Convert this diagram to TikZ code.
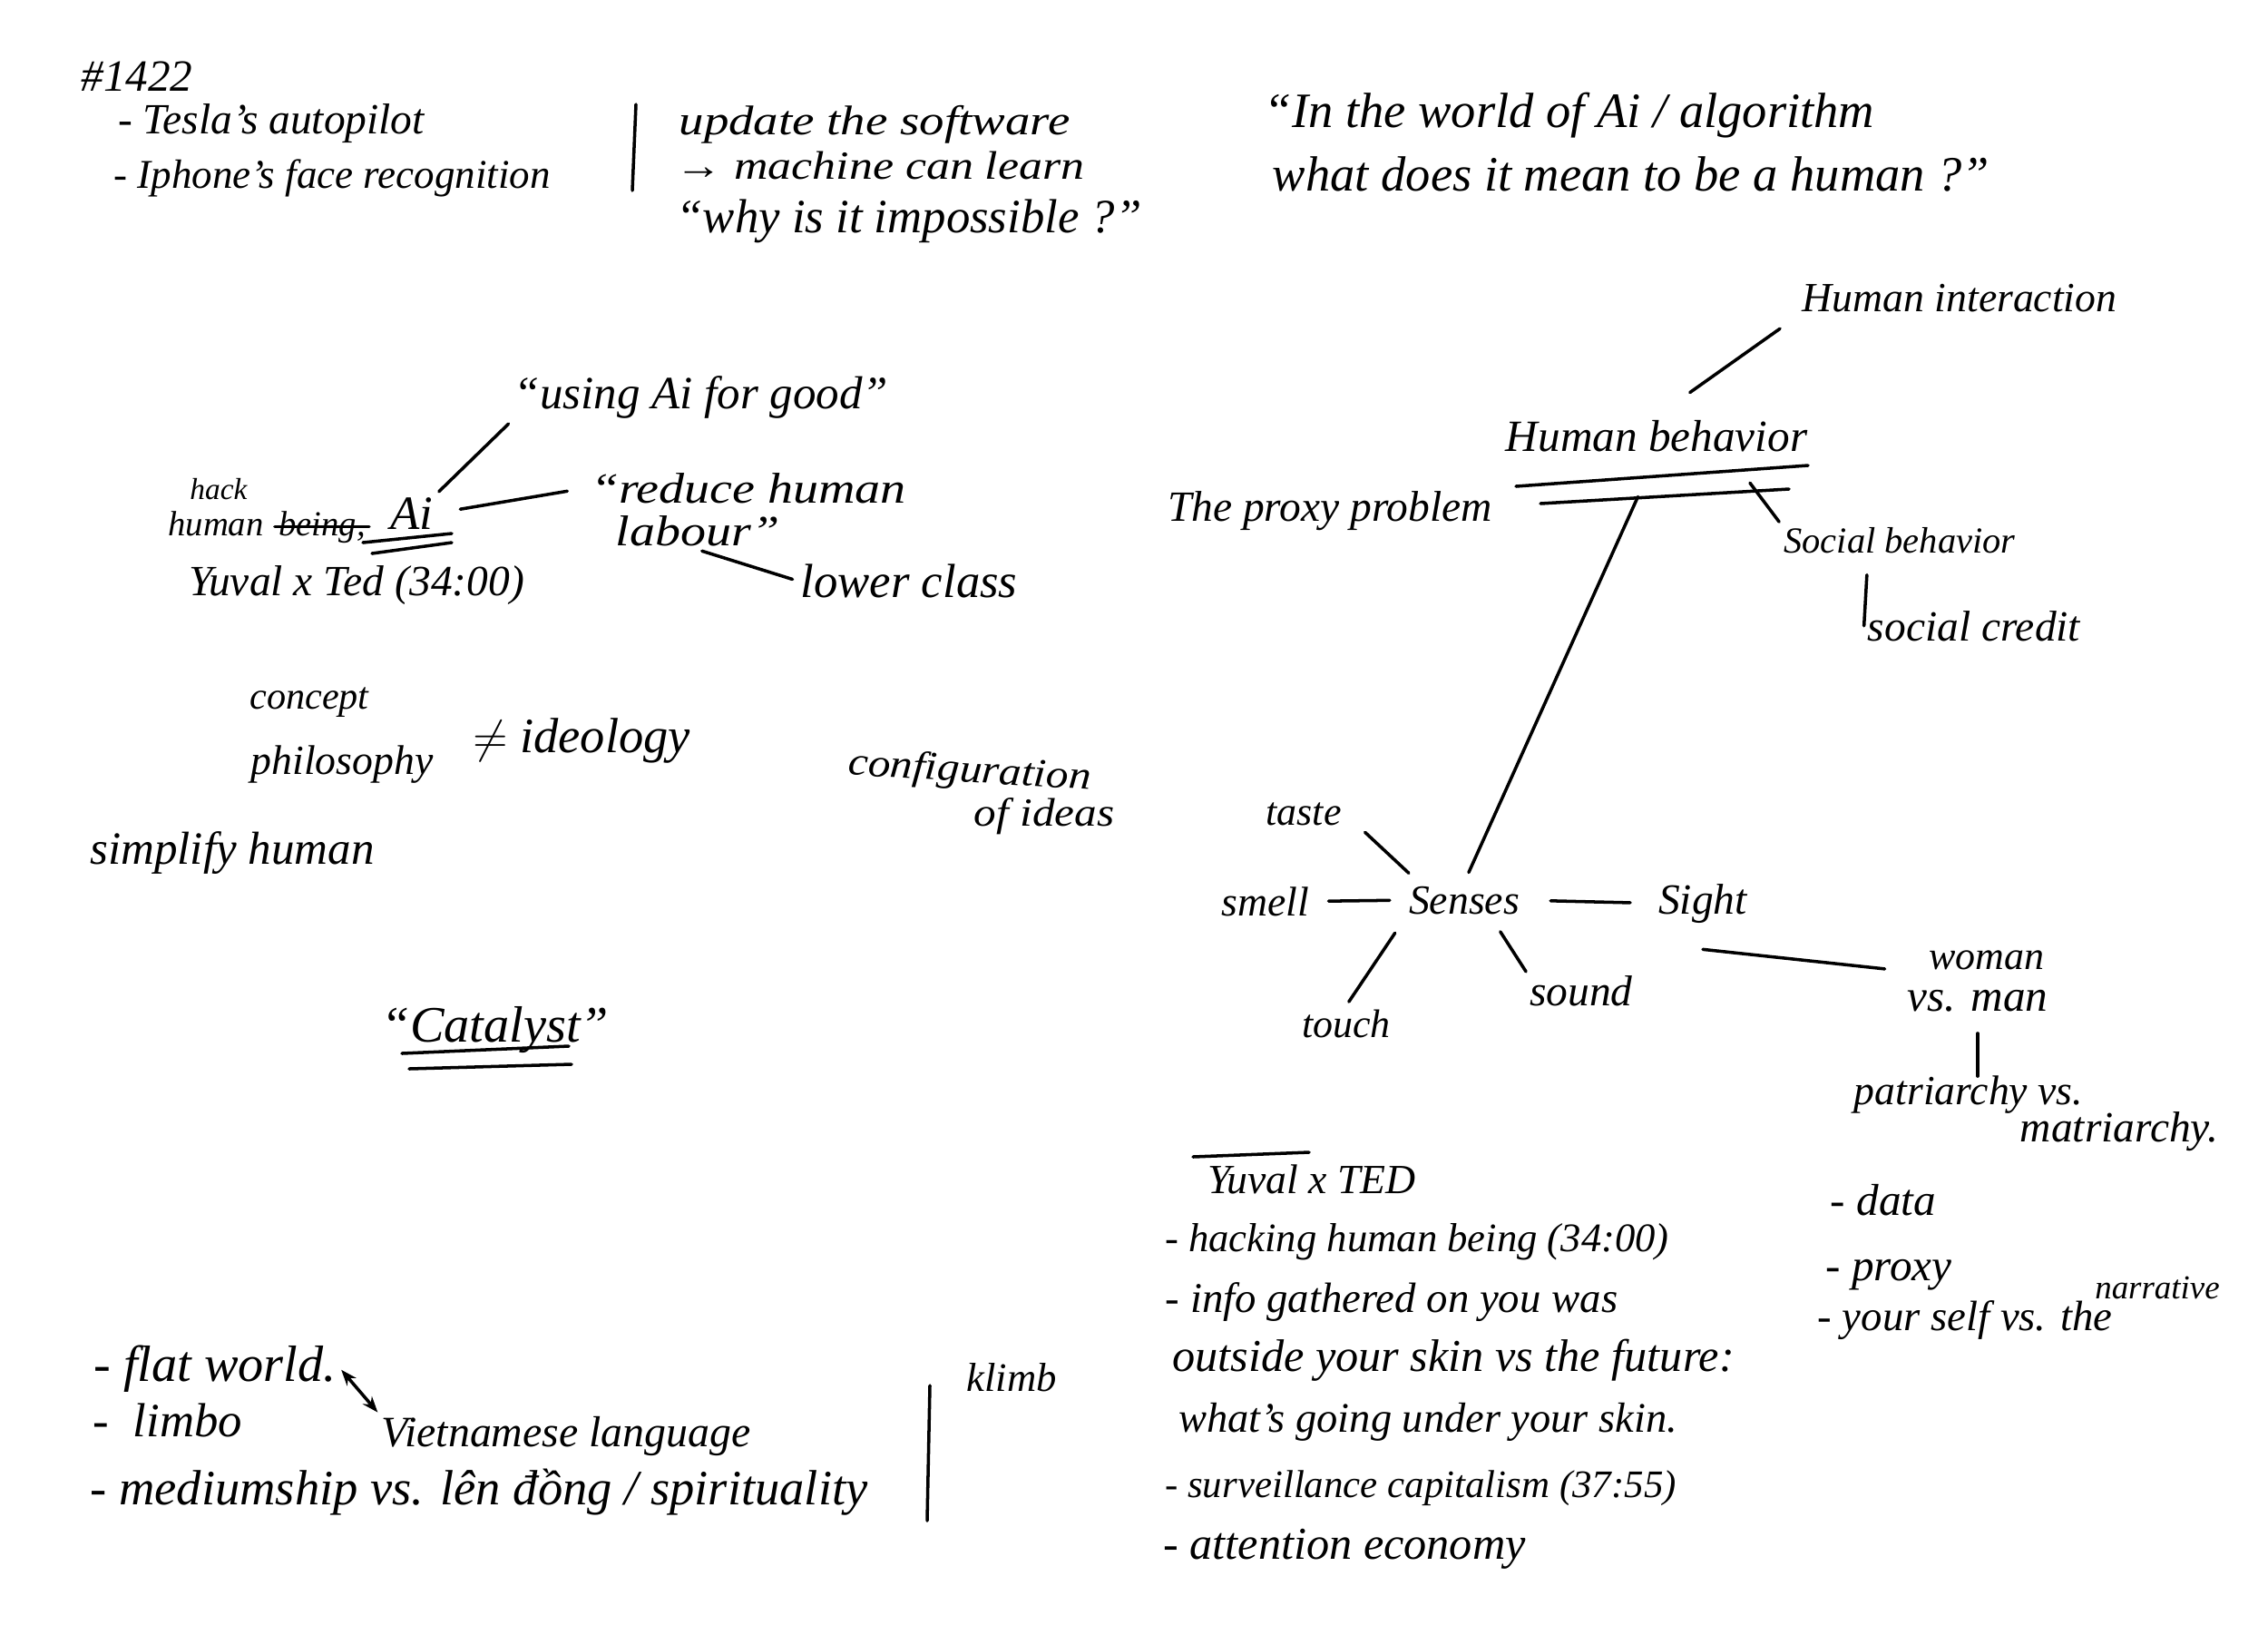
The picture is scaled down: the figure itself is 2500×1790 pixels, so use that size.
\documentclass[tikz,border=0pt]{standalone}
\usepackage{fontspec}
\setmainfont{Liberation Serif}
\usetikzlibrary{arrows.meta}

\newcommand{\handsize}[1]{\itshape\fontsize{#1}{#1}\selectfont}
\tikzset{
  hand/.style={font=\handsize{#1}, inner sep=1pt, anchor=base},
  hand/.default=13.5,
  stretch/.style={xscale=#1, transform shape},
  pen/.style={line width=1pt, line cap=round},
}

\begin{document}
\begin{tikzpicture}[x=0.01cm, y=-0.01cm]
	\fill[white] (0,0) rectangle (2500,1790);
	\useasboundingbox (0,0) rectangle (2500,1790);

	% top left
	\node[hand=14] (num) at (151,100) {\#1422};
	\node[hand=13.5] (tesla) at (299,147) {- Tesla's autopilot};
	\node[hand=12.8] (iphone) at (366,207) {- Iphone's face recognition};
	\draw[pen] (701,115) -- (697,210);
	\node[hand=13, stretch=1.2] (update) at (964,148) {update the software};
	\node[hand=12.5, stretch=1.18] (machine) at (970,197) {→ machine can learn};
	\node[hand=15] (why) at (1002,256) {“why is it impossible ?”};

	% top right
	\node[hand=15.5] (world) at (1730,140) {“In the world of Ai / algorithm};
	\node[hand=15.5] (mean) at (1798,210) {what does it mean to be a human ?”};

	% Ai
	\node[hand=14.5] (good) at (773,450) {“using Ai for good”};
	\node[hand=9.5] (hack) at (241,550) {hack};
	\node[hand=11] (humanw) at (238,590) {human};
	\node[hand=11, anchor=base west] (beingw) at ([xshift=0.08cm]humanw.base east) {being,};
	\draw[pen] (beingw.west) -- (beingw.east);
	\node[hand=15] (ai) at (454,583) {Ai};
	\draw[pen] (400,598) -- (498,588);
	\draw[pen] (410,610) -- (498,598);
	\node[hand=13.5, stretch=1.18] (reduce) at (825,554) {“reduce human};
	\node[hand=13.5, stretch=1.18] (labour) at (769,601) {labour”};
	\node[hand=15] (lower) at (1002,658) {lower class};
	\node[hand=13.5] (yuval) at (393,656) {Yuval x Ted (34:00)};
	\draw[pen, shorten <=0.03cm, shorten >=0.03cm] (ai.north east) -- (good.south west);
	\draw[pen, shorten <=0.26cm, shorten >=0.21cm] (ai.east) -- (reduce.west);
	\draw[pen, shorten <=0.05cm, shorten >=0.05cm] (labour.south) -- (lower.west);

	% middle left
	\node[hand=12] (concept) at (341,781) {concept};
	\node[hand=13] (philo) at (377,853) {philosophy};
	\node[hand=15.5] (ideology) at (641,829) {$\neq$ ideology};
	\node[hand=12.5, stretch=1.12, rotate=-4] (config) at (1068,862) {configuration};
	\node[hand=12.5, stretch=1.12] (ideas) at (1151,910) {of ideas};
	\node[hand=14.5] (simplify) at (256,952) {simplify human};
	\node[hand=16] (catalyst) at (546,1148) {“Catalyst”};
	\draw[pen] (443,1161) -- (627,1153);
	\draw[pen] (451,1178) -- (630,1173);

	% Human behavior
	\node[hand=13] (inter) at (2160,343) {Human interaction};
	\node[hand=14] (hbeh) at (1826,497) {Human behavior};
	\draw[pen] (1671,536) -- (1993,513);
	\draw[pen] (1698,555) -- (1972,539);
	\node[hand=11.5] (social) at (2094,609) {Social behavior};
	\node[hand=13.5] (credit) at (2176,706) {social credit};
	\node[hand=13.5] (proxyprob) at (1466,574) {The proxy problem};
	\draw[pen, shorten <=0.45cm, shorten >=0.25cm] (hbeh.north) -- (inter.south west);
	\draw[pen, shorten <=0.38cm, shorten >=0.02cm] ([xshift=0.8cm]hbeh.south) -- (social.north west);
	\draw[pen, shorten <=0.2cm] ([xshift=-0.35cm]social.south) -- (credit.west);

	% Senses
	\node[hand=13] (senses) at (1614,1007) {Senses};
	\node[hand=12.5] (taste) at (1437,909) {taste};
	\node[hand=13] (smell) at (1395,1009) {smell};
	\node[hand=13.5] (sight) at (1877,1007) {Sight};
	\node[hand=12.5] (touch) at (1484,1143) {touch};
	\node[hand=13.5] (sound) at (1743,1108) {sound};
	\node[hand=12.5] (woman) at (2190,1068) {woman};
	\node[hand=14] (vsman) at (2180,1114) {vs. man};
	\node[hand=13] (patri) at (2170,1217) {patriarchy vs.};
	\node[hand=13.5] (matri) at (2336,1258) {matriarchy.};
	\draw[pen, shorten <=0.5cm, shorten >=0.12cm] (hbeh.south) -- (senses.north);
	\draw[pen, shorten <=0.17cm, shorten >=0.17cm] (smell.east) -- (senses.west);
	\draw[pen, shorten <=0.3cm, shorten >=0.27cm] (senses.east) -- (sight.west);
	\draw[pen, shorten <=0.15cm, shorten >=0.3cm] ([xshift=0.15cm]senses.north west) -- (taste.east);
	\draw[pen, shorten <=0.2cm, shorten >=0.05cm] (senses.south west) -- (touch.north);
	\draw[pen, shorten <=0.18cm] ([xshift=0.3cm]senses.south) -- (sound.north west);
	\draw[pen, shorten >=0.45cm] ([yshift=-0.25cm]sight.south) -- (woman.south west);
	\draw[pen, shorten <=0.2cm, shorten >=-0.05cm] (vsman.south) -- (vsman.south |- patri.north);

	% Yuval x TED list
	\node[hand=13] (ted) at (1446,1315) {Yuval x TED};
	\draw[pen] (1315,1275) -- (1443,1270);
	\node[hand=12.7] (hacking) at (1562,1379) {- hacking human being (34:00)};
	\node[hand=13.3] (info) at (1534,1446) {- info gathered on you was};
	\node[hand=14.3] (outside) at (1602,1511) {outside your skin vs the future:};
	\node[hand=13.2] (under) at (1574,1578) {what's going under your skin.};
	\node[hand=12.2] (surv) at (1566,1650) {- surveillance capitalism (37:55)};
	\node[hand=14.3] (attn) at (1482,1718) {- attention economy};

	\node[hand=14] (data) at (2076,1339) {- data};
	\node[hand=14] (proxy) at (2082,1411) {- proxy};
	\node[hand=13.3] (yourself) at (2166,1466) {- your self vs. the};
	\node[hand=10.5] (narrative) at (2378,1431) {narrative};

	% bottom left
	\node[hand=16] (flat) at (237,1522) {- flat world.};
	\node[hand=15] (limbo) at (185,1583) {-~~limbo};
	\node[hand=13.6] (viet) at (624,1594) {Vietnamese language};
	\node[hand=15.5] (medium) at (528,1658) {- mediumship vs. lên đồng / spirituality};
	\draw[pen, {Stealth[length=5pt]}-{Stealth[length=5pt]}, shorten <=0.02cm] (flat.east) -- (viet.north west);
	\draw[pen] (1025,1527) -- (1022,1676);
	\node[hand=12.7] (klimb) at (1115,1533) {klimb};
\end{tikzpicture}
\end{document}
